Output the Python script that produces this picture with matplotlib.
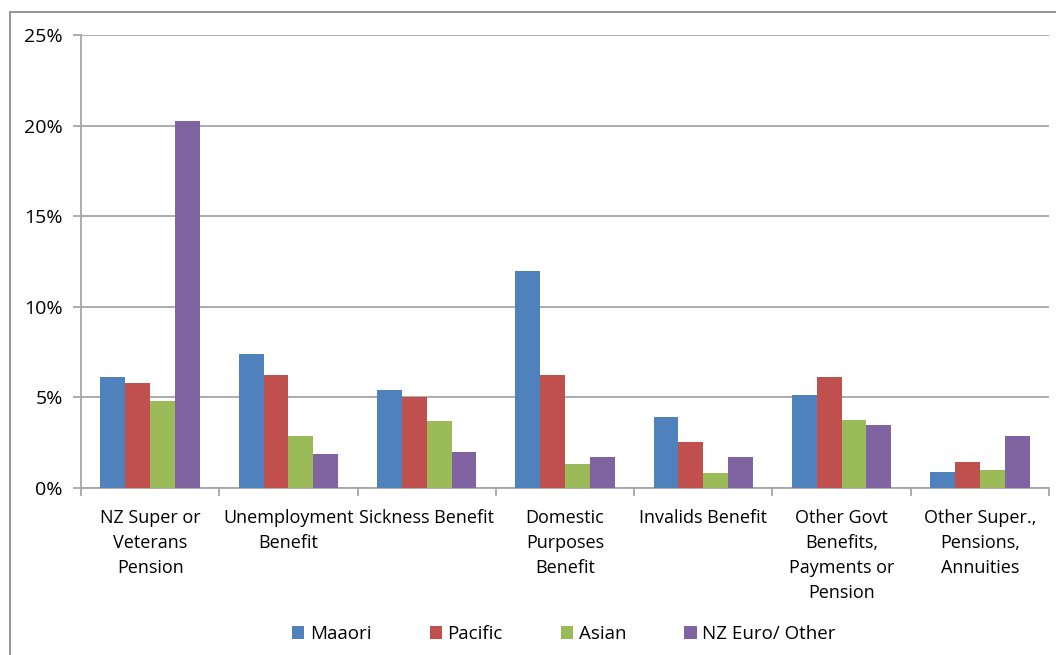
import matplotlib.pyplot as plt
import numpy as np
from matplotlib.patches import Rectangle
from matplotlib.ticker import FuncFormatter

categories = ['NZ Super or\nVeterans\nPension', 'Unemployment\nBenefit', 'Sickness Benefit',
              'Domestic\nPurposes\nBenefit', 'Invalids Benefit', 'Other Govt\nBenefits,\nPayments or\nPension',
              'Other Super.,\nPensions,\nAnnuities']
maaori = [6.1, 7.4, 5.4, 12.0, 3.9, 5.15, 0.9]
pacific = [5.8, 6.25, 5.0, 6.25, 2.55, 6.15, 1.45]
asian = [4.8, 2.85, 3.7, 1.35, 0.85, 3.75, 1.0]
nz_euro = [20.25, 1.85, 2.0, 1.7, 1.7, 3.45, 2.85]
series_names = ['Maaori', 'Pacific', 'Asian', 'NZ Euro/ Other']
colors = ['#4F81BD', '#C0504D', '#9BBB59', '#8064A2']

plt.rcParams['font.family'] = ['Open Sans', 'DejaVu Sans']
grey = '#A6A6A6'

fig = plt.figure(figsize=(10.56, 6.55), dpi=100)
fig.patches.append(Rectangle((10 / 1056, -0.1), 1.2, 1 - 12 / 655 + 0.1, transform=fig.transFigure,
                             fill=False, edgecolor='#8C8C8C', linewidth=1.3))
ax = fig.add_axes([81 / 1056, 167 / 655, 968 / 1056, 453 / 655])

x = np.arange(len(categories))
width = 0.18
for i, (vals, name, c) in enumerate(zip([maaori, pacific, asian, nz_euro], series_names, colors)):
    ax.bar(x + (i - 1.5) * width, vals, width, color=c, label=name, zorder=3)

ax.set_xlim(-0.5, len(categories) - 0.5)
ax.set_ylim(0, 25)
ax.set_yticks(np.arange(0, 26, 5))
ax.yaxis.set_major_formatter(FuncFormatter(lambda v, p: f'{v:.0f}%'))
ax.yaxis.grid(True, color=grey, linewidth=1.3, zorder=0)
ax.set_xticks(x)
ax.set_xticklabels(categories, fontsize=13, linespacing=1.5, va='top')
ax.set_xticks(np.arange(-0.5, len(categories), 1), minor=True)
ax.tick_params(axis='x', which='major', length=0, pad=15)
ax.tick_params(axis='x', which='minor', length=6, color=grey, width=1.3)
ax.tick_params(axis='y', length=6, color=grey, width=1.3, labelsize=14, pad=7)
for s in ['top', 'right']:
    ax.spines[s].set_visible(False)
for s in ['left', 'bottom']:
    ax.spines[s].set_color(grey)
    ax.spines[s].set_linewidth(1.3)

fig.legend(loc='center', bbox_to_anchor=(564 / 1056, 1 - 634 / 655), ncol=4, frameon=False,
           fontsize=13.5, handlelength=0.65, handleheight=0.65, handletextpad=0.3, columnspacing=3.1)

fig.savefig('out.png', dpi=100)
